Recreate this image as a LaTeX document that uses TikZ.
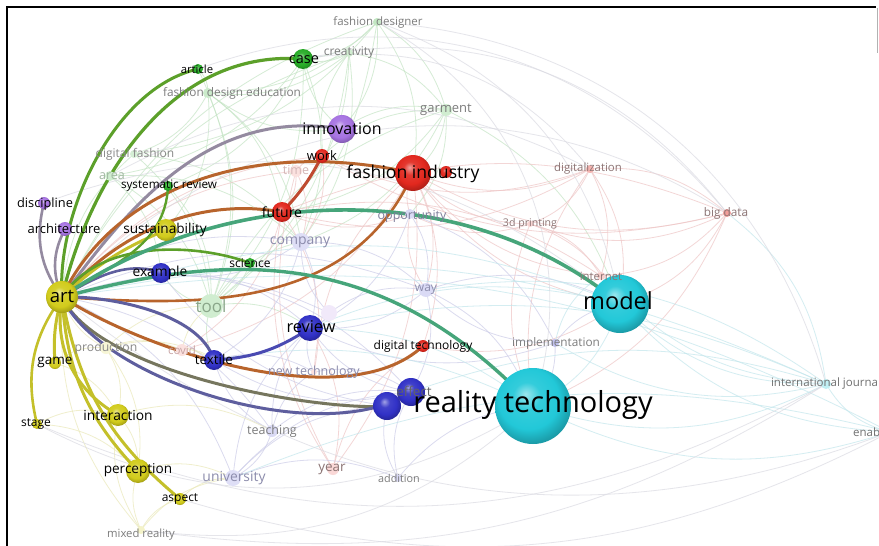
\documentclass[tikz,border=0pt]{standalone}
\usepackage{fontspec}
\setmainfont{Open Sans}
\usetikzlibrary{calc}

\pgfdeclarelayer{paper}
\pgfdeclarelayer{web}
\pgfdeclarelayer{links}
\pgfsetlayers{paper,web,links,main}

% cluster colours
\definecolor{cY}{HTML}{D2CC1C}
\definecolor{cR}{HTML}{E2281E}
\definecolor{cG}{HTML}{28AC28}
\definecolor{cB}{HTML}{3131C6}
\definecolor{cP}{HTML}{A774E2}
\definecolor{cC}{HTML}{22C8D8}
% strong link colours
\definecolor{lYG}{HTML}{5CA02A}
\definecolor{lYP}{HTML}{948AA0}
\definecolor{lYR}{HTML}{B8642C}
\definecolor{lYB}{HTML}{5E5E9E}
\definecolor{lYC}{HTML}{46A57A}
\definecolor{lYY}{HTML}{C4C02A}
\definecolor{lYO}{HTML}{76765E}
\definecolor{lBB}{HTML}{4A4AB2}
\definecolor{lRR}{HTML}{BF4A30}
% faint web colours
\definecolor{wG}{HTML}{C4E4C4}
\definecolor{wR}{HTML}{EEC6C6}
\definecolor{wB}{HTML}{CCCCE8}
\definecolor{wC}{HTML}{C2E6EC}
\definecolor{wY}{HTML}{EAE8B8}
\definecolor{wM}{HTML}{DADAE2}
% faint label colours
\definecolor{tGray}{HTML}{7C7C7C}
\definecolor{tGreen}{HTML}{8AA68A}
\definecolor{tBlue}{HTML}{8C8CAC}
\definecolor{tPink}{HTML}{C8A4A4}
\definecolor{tRed}{HTML}{8C7474}

\colorlet{sphc}{black}
\pgfdeclareradialshading[sphc]{sphere}{\pgfpoint{-5bp}{8bp}}{%
  color(0bp)=(sphc!45!white); color(9bp)=(sphc!92!white); color(20bp)=(sphc);
  color(28bp)=(sphc!78!black); color(50bp)=(sphc!65!black)}

\tikzset{
  sph/.style 2 args={circle, inner sep=0pt, minimum size=#1,
    /utils/exec={\colorlet{sphc}{#2}}, shading=sphere},
  faint/.style 2 args={circle, inner sep=0pt, minimum size=#1, fill=#2},
  lab/.style={inner sep=0pt, text=black},
  fs/.style={font=\fontsize{#1}{#1}\selectfont},
  lnk/.style={line width=#1, line cap=round},
  wline/.style={line width=0.8pt, draw opacity=0.7}
}

% curved link from node #2 to node #3 that passes near #4 (about a third of
% the way) and #5 (about two thirds of the way)
\newcommand\thrulink[5][]{%
  \draw[#1] (#2.center) .. controls
    ($3*(#4)-1.5*(#5)-0.8333*(#2.center)+0.3333*(#3.center)$) and
    ($3*(#5)-1.5*(#4)+0.3333*(#2.center)-0.8333*(#3.center)$) .. (#3.center);}

\begin{document}
\begin{tikzpicture}[x=1pt,y=-1pt]
\useasboundingbox (0,0) rectangle (879,546);
\begin{pgfonlayer}{paper}
\fill[white] (0,0) rectangle (879,546);
\end{pgfonlayer}

% ---------- faint term nodes ----------
\node[faint={24pt}{cG!22}] (tool) at (211,306) {};
\node[faint={18pt}{cB!16}] (company) at (301,242) {};
\node[faint={12pt}{cR!14}] (time) at (296,171) {};
\node[faint={12pt}{cR!14}] (covid) at (182,350) {};
\node[faint={12pt}{cY!18}] (production) at (106,348) {};
\node[faint={8pt}{cG!28}] (fdesigner) at (377,22) {};
\node[faint={8pt}{cG!22}] (creativity) at (349,53) {};
\node[faint={10pt}{cG!24}] (fde) at (208,93) {};
\node[faint={12pt}{cG!22}] (garment) at (446,110) {};
\node[faint={8pt}{cG!20}] (dfashion) at (134,154) {};
\node[faint={10pt}{cG!22}] (area) at (110,176) {};
\node[faint={10pt}{cB!18}] (opportunity) at (410,214) {};
\node[faint={6pt}{cR!20}] (printing) at (530,224) {};
\node[faint={8pt}{cR!35}] (digitalization) at (590,169) {};
\node[faint={8pt}{cR!45}] (bigdata) at (727,213) {};
\node[faint={8pt}{cR!22}] (internet) at (601,276) {};
\node[faint={14pt}{cB!18}] (way) at (426,290) {};
\node[faint={16pt}{cP!16}] (lav) at (329,313) {};
\node[faint={8pt}{cB!30}] (implementation) at (555,343) {};
\node[faint={6pt}{cR!14}] (newtech) at (314,372) {};
\node[faint={12pt}{cB!18}] (teaching) at (272,431) {};
\node[faint={16pt}{cB!16}] (university) at (233,478) {};
\node[faint={12pt}{cR!18}] (year) at (333,469) {};
\node[faint={8pt}{cB!18}] (addition) at (398,478) {};
\node[faint={10pt}{cC!28}] (intl) at (826,384) {};
\node[faint={8pt}{cY!24}] (mixed) at (141,530) {};
\coordinate (enab) at (890,432);

% ---------- main term nodes ----------
\node[sph={32pt}{cY}] (art) at (62,297) {};
\node[sph={12pt}{cP}] (discipline) at (44,203) {};
\node[sph={14pt}{cP}] (architecture) at (65,229) {};
\node[sph={22pt}{cY}] (sustainability) at (166,230) {};
\node[sph={20pt}{cB}] (example) at (161,273) {};
\node[sph={10pt}{cG}] (sysreview) at (168,186) {};
\node[sph={10pt}{cG}] (science) at (250,263) {};
\node[sph={20pt}{cR}] (future) at (282,212) {};
\node[sph={14pt}{cR}] (work) at (322,156) {};
\node[sph={28pt}{cP}] (innovation) at (342,129) {};
\node[sph={36pt}{cR}] (fashionind) at (413,173) {};
\node[sph={12pt}{cR}] (fashionsmall) at (446,172) {};
\node[sph={20pt}{cG}] (case) at (303,59) {};
\node[sph={10pt}{cG}] (article) at (198,69) {};
\node[sph={20pt}{cB}] (textile) at (214,360) {};
\node[sph={26pt}{cB}] (review) at (310,328) {};
\node[sph={12pt}{cR}] (digitaltech) at (423,346) {};
\node[sph={28pt}{cB}] (effect) at (411,392) {};
\node[sph={28pt}{cB}] (bluenode) at (387,406) {};
\node[sph={76pt}{cC}] (reality) at (533,406) {};
\node[sph={58pt}{cC}] (model) at (620,304) {};
\node[sph={12pt}{cY}] (game) at (55,363) {};
\node[sph={10pt}{cY}] (stage) at (37,424) {};
\node[sph={22pt}{cY}] (interaction) at (118,415) {};
\node[sph={24pt}{cY}] (perception) at (138,471) {};
\node[sph={12pt}{cY}] (aspect) at (180,499) {};

% ---------- faint co-occurrence web ----------
\begin{pgfonlayer}{web}
\foreach \a/\b in {fdesigner/case,fdesigner/garment,fdesigner/fde,fdesigner/innovation,
  fdesigner/tool,fdesigner/fashionind,creativity/case,creativity/garment,creativity/fde,
  creativity/tool,creativity/company,garment/fashionind,garment/future,garment/company,
  garment/opportunity,fde/tool,fde/dfashion,fde/sustainability,fde/company,case/tool,
  case/company,case/area,dfashion/tool,dfashion/company,area/tool,area/company,article/tool,
  sysreview/tool,science/tool,tool/company,tool/review,tool/example,garment/model,
  creativity/future,fde/future,fdesigner/dfashion,case/sysreview,article/fde,area/example}
  \draw[wline,wG] (\a.center) to[bend left=22] (\b.center);
\foreach \a/\b in {fdesigner/art,creativity/art,garment/tool,case/innovation,fde/innovation,
  garment/innovation,garment/work,tool/textile,dfashion/art,creativity/work}
  \draw[wline,wG] (\a.center) to[bend right=22] (\b.center);
\foreach \a/\b in {digitalization/fashionind,digitalization/bigdata,digitalization/printing,
  digitalization/internet,digitalization/work,digitalization/model,bigdata/fashionind,
  bigdata/printing,bigdata/internet,bigdata/model,bigdata/reality,printing/fashionind,
  printing/opportunity,printing/internet,opportunity/fashionind,opportunity/future,time/work,
  time/future,time/company,year/digitaltech,year/future,internet/fashionind,fashionind/way,
  fashionind/digitaltech,work/company,digitalization/future,bigdata/work,printing/model,
  newtech/fashionind,year/time}
  \draw[wline,wR] (\a.center) to[bend left=22] (\b.center);
\foreach \a/\b in {digitalization/reality,bigdata/future,internet/future,year/fashionind,
  year/review,time/art,covid/future,newtech/future,printing/reality,digitaltech/model,
  opportunity/way,fashionind/model,work/art,covid/fashionind}
  \draw[wline,wR] (\a.center) to[bend right=22] (\b.center);
\foreach \a/\b in {company/review,company/way,company/example,company/textile,way/review,
  way/effect,way/model,way/reality,lav/review,lav/way,lav/company,teaching/review,
  teaching/university,teaching/effect,teaching/textile,teaching/newtech,university/effect,
  university/review,university/bluenode,university/addition,addition/effect,addition/reality,
  addition/bluenode,newtech/review,newtech/effect,implementation/model,implementation/reality,
  implementation/way,implementation/review,example/review,example/effect,opportunity/review}
  \draw[wline,wB] (\a.center) to[bend left=22] (\b.center);
\foreach \a/\b in {teaching/art,university/art,company/art,way/art,lav/art,textile/effect,
  review/effect,example/bluenode,newtech/textile,implementation/opportunity,way/opportunity}
  \draw[wline,wB] (\a.center) to[bend right=22] (\b.center);
\foreach \a/\b in {intl/model,intl/reality,intl/implementation,intl/internet,enab/model,
  enab/reality,enab/intl,model/reality,model/internet,implementation/internet,bigdata/intl,
  way/intl}
  \draw[wline,wC] (\a.center) to[bend left=22] (\b.center);
\foreach \a/\b in {intl/art,enab/art,enab/university,intl/review,intl/effect,model/review,
  model/example,reality/review,reality/textile}
  \draw[wline,wC] (\a.center) to[bend right=18] (\b.center);
\foreach \a/\b in {mixed/perception,mixed/interaction,mixed/aspect,mixed/university,
  production/art,production/interaction,production/perception,production/covid,
  production/textile,covid/textile,covid/tool,game/interaction,stage/interaction,
  stage/perception,perception/university,interaction/teaching,aspect/university,mixed/art,
  game/production,interaction/perception,production/tool}
  \draw[wline,wY] (\a.center) to[bend left=22] (\b.center);
\foreach \a/\b/\t in {fdesigner/model/30,article/bigdata/35,case/digitalization/30,
  art/bigdata/40,discipline/model/30,fdesigner/reality/40,fdesigner/intl/35,
  case/bigdata/32,area/digitalization/28}
  \draw[wline,wM] (\a.center) to[bend left=\t] (\b.center);
\foreach \a/\b/\t in {stage/reality/30,mixed/reality/25,mixed/intl/20,art/enab/30,
  stage/intl/26,aspect/enab/22}
  \draw[wline,wM] (\a.center) to[bend right=\t] (\b.center);
\end{pgfonlayer}

% ---------- strong links ----------
\begin{pgfonlayer}{links}
\thrulink[lnk=3,lYG]{art}{article}{76,205}{124,118}
\thrulink[lnk=3.2,lYG]{art}{case}{106,183}{186,91}
\thrulink[lnk=3,lYP]{art}{innovation}{136,207}{226,142}
\thrulink[lnk=3,lYR]{art}{fashionind}{135,212}{255,166}
\thrulink[lnk=3,lYR]{art}{future}{130,240}{205,212}
\draw[lnk=3,lRR] (future.center) to[bend right=8] (work.center);
\thrulink[lnk=2.6,lYR]{art}{fashionind}{195,300}{322,270}
\draw[lnk=3,lYY] (art.center) to[bend left=10] (sustainability.center);
\thrulink[lnk=2.6,lYB]{art}{example}{95,279}{128,269}
\thrulink[lnk=2.4,lYG]{art}{sysreview}{110,268}{150,235}
\thrulink[lnk=2.6,lYG]{art}{science}{115,258}{185,250}
\thrulink[lnk=3.6,lYC]{art}{model}{245,220}{443,220}
\thrulink[lnk=3.4,lYC]{art}{reality}{218,270}{375,294}
\thrulink[lnk=3,lYB]{art}{textile}{118,302}{178,322}
\draw[lnk=3,lBB] (textile.center) to[bend right=15] (review.center);
\thrulink[lnk=3,lYR]{art}{digitaltech}{177,350}{315,377}
\thrulink[lnk=3,lYO]{art}{bluenode}{150,362}{285,398}
\thrulink[lnk=3,lYB]{art}{effect}{150,372}{290,412}
\draw[lnk=2.6,lYP] (discipline.center) to[bend right=25] (art.center);
\draw[lnk=2.6,lYP] (architecture.center) to[bend right=25] (art.center);
\draw[lnk=3,lYY] (art.center) to[bend right=10] (game.center);
\draw[lnk=2.6,lYY] (art.center) to[bend right=25] (stage.center);
\draw[lnk=3,lYY] (art.center) to[bend right=35] (interaction.center);
\draw[lnk=3,lYY] (art.center) to[bend right=20] (perception.center);
\draw[lnk=3,lYY] (art.center) to[bend right=20] (aspect.center);
\end{pgfonlayer}

% ---------- labels of faint terms ----------
\node[lab,fs=11.5,text=tGray] (fdesigner-t) at (378,22) {fashion designer};
\node[lab,fs=12,text=tGray] (creativity-t) at (349,53) {creativity};
\node[lab,fs=11.8,text=tGray] (fde-t) at (232,93) {fashion design education};
\node[lab,fs=13,text=tGray] (garment-t) at (446,110) {garment};
\node[lab,fs=12,text=tGray!90] (dfashion-t) at (135,154) {digital fashion};
\node[lab,fs=12.5,text=tGreen!80] (area-t) at (112,176) {area};
\node[lab,fs=12.5,text=tPink!80] (time-t) at (296,170) {time};
\node[lab,fs=14,text=tBlue] (company-t) at (300,242) {company};
\node[lab,fs=17,text=tGreen] (tool-t) at (211,306) {tool};
\node[lab,fs=12.4,text=tBlue!90!black] (opportunity-t) at (412,216) {opportunity};
\node[lab,fs=10.6,text=tRed] (printing-t) at (530,224) {3d printing};
\node[lab,fs=11.4,text=tRed] (digitalization-t) at (588,169) {digitalization};
\node[lab,fs=11.8,text=tRed] (bigdata-t) at (726,213) {big data};
\node[lab,fs=11.4,text=tRed] (internet-t) at (601,276) {internet};
\node[lab,fs=12,text=tBlue] (way-t) at (426,290) {way};
\node[lab,fs=11.8,text=tGray] (implementation-t) at (556,343) {implementation};
\node[lab,fs=12.5,text=tBlue] (newtech-t) at (314,372) {new technology};
\node[lab,fs=12.2,text=tGray!90] (production-t) at (106,348) {production};
\node[lab,fs=11.5,text=tPink] (covid-t) at (182,350) {covid};
\node[lab,fs=12.5,text=tGray] (teaching-t) at (272,431) {teaching};
\node[lab,fs=13.9,text=tBlue] (university-t) at (234,478) {university};
\node[lab,fs=13.5,text=tRed] (year-t) at (332,469) {year};
\node[lab,fs=10.8,text=tGray] (addition-t) at (399,478) {addition};
\node[lab,fs=11.5,text=tGray!90!black] (intl-t) at (826,384) {international journal};
\node[lab,fs=11.5,text=tGray!90!black,anchor=west] (enab-t) at (853,432) {enab};
\node[lab,fs=11.3,text=tGray] (mixed-t) at (141,535) {mixed reality};

% ---------- labels of main terms ----------
\node[lab,fs=18.5] (art-t) at (62,296) {art};
\node[lab,fs=12.8] (discipline-t) at (45,204) {discipline};
\node[lab,fs=13] (architecture-t) at (64,229) {architecture};
\node[lab,fs=13.6] (sustainability-t) at (165,230) {sustainability};
\node[lab,fs=13.8] (example-t) at (160,273) {example};
\node[lab,fs=11.7] (sysreview-t) at (169,186) {systematic review};
\node[lab,fs=12] (science-t) at (250,263) {science};
\node[lab,fs=14] (future-t) at (282,212) {future};
\node[lab,fs=13] (work-t) at (322,156) {work};
\node[lab,fs=16] (innovation-t) at (342,129) {innovation};
\node[lab,fs=17.6] (fashionind-t) at (413,174) {fashion industry};
\node[lab,fs=14.5] (case-t) at (304,60) {case};
\node[lab,fs=11.3] (article-t) at (197,69) {article};
\node[lab,fs=13.4] (textile-t) at (214,359) {textile};
\node[lab,fs=16.3] (review-t) at (311,327) {review};
\node[lab,fs=12] (digitaltech-t) at (423,346) {digital technology};
\node[lab,fs=13.5,text=tGray!80!black] (effect-t) at (414,391) {effect};
\node[lab,fs=29] (reality-t) at (533,405) {reality technology};
\node[lab,fs=23.5] (model-t) at (618,301) {model};
\node[lab,fs=13.5] (game-t) at (55,362) {game};
\node[lab,fs=12] (stage-t) at (36,424) {stage};
\node[lab,fs=13.8] (interaction-t) at (118,415) {interaction};
\node[lab,fs=13.6] (perception-t) at (138,470) {perception};
\node[lab,fs=12] (aspect-t) at (180,499) {aspect};

% ---------- frame ----------
\draw[line width=2.4pt] (7,546) -- (7,7) -- (876,7);
\draw[gray!60,line width=1.2pt] (877.5,8) -- (877.5,53);
\end{tikzpicture}
\end{document}
